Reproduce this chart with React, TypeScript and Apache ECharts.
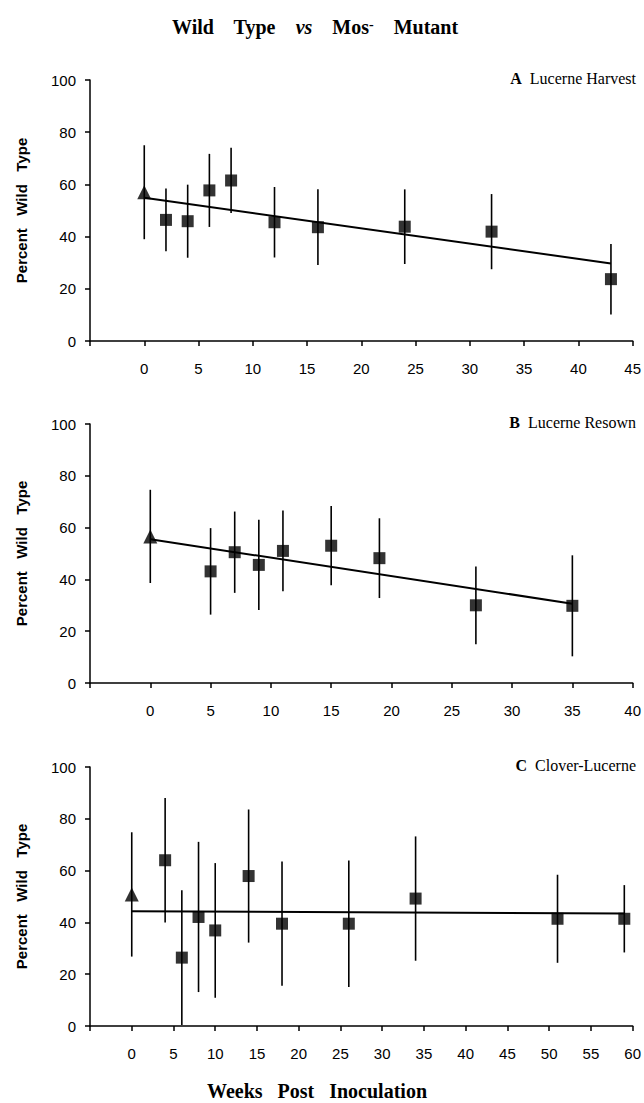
import React, { useEffect, useRef } from "react";
import * as echarts from "echarts";

// ---- data ----
const panelLetters = ["A", "B", "C"];
const panelNames = ["Lucerne Harvest", "Lucerne Resown", "Clover-Lucerne"];
const xMaxes = [45, 40, 60];
const xTickInterval = 5;
const yTicks = [0, 20, 40, 60, 80, 100];

// initial inoculum (triangle, week 0)
const initialWeek = 0;
const initialValues = [57, 56.6, 50.8];
const initialErrors = [18, 18, 24];

// A Lucerne Harvest
const weeksA = [2, 4, 6, 8, 12, 16, 24, 32, 43];
const valuesA = [46.4, 45.9, 57.7, 61.5, 45.5, 43.6, 43.8, 41.9, 23.7];
const errorsA = [12, 14, 14, 12.5, 13.5, 14.5, 14.3, 14.4, 13.5];

// B Lucerne Resown
const weeksB = [5, 7, 9, 11, 15, 19, 27, 35];
const valuesB = [43.1, 50.5, 45.6, 51, 53, 48.2, 30, 29.8];
const errorsB = [16.7, 15.7, 17.4, 15.6, 15.3, 15.4, 15, 19.5];

// C Clover-Lucerne
const weeksC = [4, 6, 8, 10, 14, 18, 26, 34, 51, 59];
const valuesC = [64, 26.4, 42.1, 36.9, 57.9, 39.5, 39.5, 49.2, 41.4, 41.4];
const errorsC = [24, 26, 29, 26, 25.7, 24, 24.4, 24, 17, 13];

// fitted regression lines
const fitIntercepts = [54.9, 55.5, 44.3];
const fitSlopes = [-0.586, -0.711, -0.015];
const fitEnds = [43, 35, 59];

const weeks = [weeksA, weeksB, weeksC];
const values = [valuesA, valuesB, valuesC];
const errors = [errorsA, errorsB, errorsC];

// ---- layout ----
const W = 644;
const H = 1103;
const gridTops = [80, 424, 767];
const gridHeights = [261, 259, 259];
const gridLeft = 90;
const gridRight = 8;
const SANS = "'Liberation Sans', Arial, Helvetica, sans-serif";
const SERIF = "'Liberation Serif', 'Times New Roman', Times, serif";

function buildOption() {
  const grid: any[] = [];
  const xAxis: any[] = [];
  const yAxis: any[] = [];
  const series: any[] = [];
  const graphic: any[] = [];

  for (let i = 0; i < 3; i++) {
    grid.push({ left: gridLeft, right: gridRight, top: gridTops[i], height: gridHeights[i] });
    xAxis.push({
      type: "value",
      gridIndex: i,
      min: -xTickInterval,
      max: xMaxes[i],
      interval: xTickInterval,
      splitLine: { show: false },
      axisLine: { show: true, onZero: false, lineStyle: { color: "#000", width: 1.5 } },
      axisTick: { show: true, length: 5, lineStyle: { color: "#000", width: 1.5 } },
      axisLabel: {
        margin: 20,
        color: "#000",
        fontFamily: SANS,
        fontSize: 15,
        formatter: (v: number) => (v < 0 ? "" : String(v)),
      },
    });
    yAxis.push({
      type: "value",
      gridIndex: i,
      min: yTicks[0],
      max: yTicks[yTicks.length - 1],
      interval: yTicks[1] - yTicks[0],
      splitLine: { show: false },
      axisLine: { show: true, onZero: false, lineStyle: { color: "#000", width: 1.5 } },
      axisTick: { show: true, length: 5, lineStyle: { color: "#000", width: 1.5 } },
      axisLabel: { margin: 14, color: "#000", fontFamily: SANS, fontSize: 15 },
      name: "Percent   Wild   Type",
      nameLocation: "middle",
      nameRotate: 90,
      nameGap: 61,
      nameTextStyle: { color: "#000", fontFamily: SANS, fontWeight: "bold", fontSize: 15 },
    });

    const errData = weeks[i].map((w, k) => [w, values[i][k], errors[i][k]]);
    errData.unshift([initialWeek, initialValues[i], initialErrors[i]]);

    series.push({
      type: "custom",
      xAxisIndex: i,
      yAxisIndex: i,
      data: errData,
      encode: { x: 0, y: 1 },
      renderItem: (params: any, api: any) => {
        const x = api.value(0);
        const y = api.value(1);
        const e = api.value(2);
        const top = api.coord([x, Math.min(100, y + e)]);
        const bot = api.coord([x, Math.max(0, y - e)]);
        return {
          type: "line",
          shape: { x1: top[0], y1: top[1], x2: bot[0], y2: bot[1] },
          style: { stroke: "#000", lineWidth: 1.6 },
        };
      },
      z: 2,
    });

    series.push({
      type: "line",
      xAxisIndex: i,
      yAxisIndex: i,
      data: [
        [initialWeek, fitIntercepts[i] + fitSlopes[i] * initialWeek],
        [fitEnds[i], fitIntercepts[i] + fitSlopes[i] * fitEnds[i]],
      ],
      showSymbol: false,
      symbol: "none",
      lineStyle: { color: "#000", width: 2 },
      z: 3,
    });

    series.push({
      type: "scatter",
      xAxisIndex: i,
      yAxisIndex: i,
      data: weeks[i].map((w, k) => [w, values[i][k]]),
      symbol: "rect",
      symbolSize: 12,
      itemStyle: { color: "#000" },
      z: 4,
    });

    series.push({
      type: "scatter",
      xAxisIndex: i,
      yAxisIndex: i,
      data: [[initialWeek, initialValues[i]]],
      symbol: "triangle",
      symbolSize: 14,
      itemStyle: { color: "#000" },
      z: 4,
    });

    graphic.push({
      type: "text",
      right: gridRight,
      top: gridTops[i] - 10,
      style: {
        text: `{b|${panelLetters[i]}}{n|  ${panelNames[i]}}`,
        rich: {
          b: { fontFamily: SERIF, fontWeight: "bold", fontSize: 16, fill: "#000" },
          n: { fontFamily: SERIF, fontSize: 16, fill: "#000" },
        },
        fill: "#000",
      },
    });
  }

  graphic.push({
    type: "text",
    x: 315,
    y: 27,
    style: {
      text: "{b|Wild    Type    }{i|vs}{b|    Mos}{s|-}{b|    Mutant}",
      align: "center",
      verticalAlign: "middle",
      rich: {
        b: { fontFamily: SERIF, fontWeight: "bold", fontSize: 20, fill: "#000" },
        i: { fontFamily: SERIF, fontWeight: "bold", fontStyle: "italic", fontSize: 20, fill: "#000" },
        s: { fontFamily: SERIF, fontWeight: "bold", fontSize: 14, fill: "#000", verticalAlign: "top" },
      },
    },
  });

  graphic.push({
    type: "text",
    x: 317,
    y: 1091,
    style: {
      text: "Weeks   Post   Inoculation",
      align: "center",
      verticalAlign: "middle",
      fontFamily: SERIF,
      fontWeight: "bold",
      fontSize: 20,
      fill: "#000",
    },
  });

  return {
    animation: false,
    backgroundColor: "#fff",
    grid,
    xAxis,
    yAxis,
    series,
    graphic,
  };
}

export default function App() {
  const ref = useRef<HTMLDivElement>(null);
  useEffect(() => {
    if (!ref.current) return;
    const chart = echarts.init(ref.current, undefined, { renderer: "svg", width: W, height: H });
    chart.setOption(buildOption() as any);
    return () => chart.dispose();
  }, []);
  return (
    <div
      ref={ref}
      style={{ position: "fixed", left: 0, top: 0, width: W, height: H, background: "#fff" }}
    />
  );
}
